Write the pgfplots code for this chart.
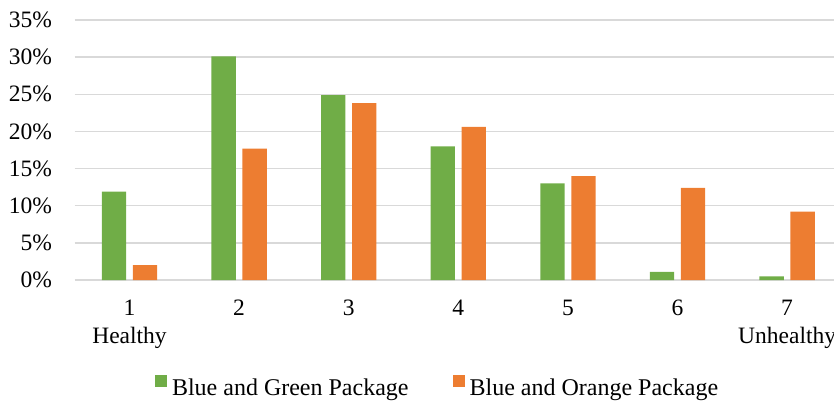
\documentclass[border=0pt]{standalone}
\usepackage{fontspec}
\setmainfont{Liberation Serif}
\usepackage{pgfplots}
\pgfplotsset{compat=1.18}

\definecolor{pkggreen}{HTML}{70AD47}
\definecolor{pkgorange}{HTML}{ED7D31}
\definecolor{gridgray}{HTML}{D9D9D9}

\begin{document}
\fontsize{23.5bp}{28bp}\selectfont
\begin{tikzpicture}[x=1bp,y=1bp]
  \useasboundingbox (0,0) rectangle (834,401);
  \clip (0,0) rectangle (834,401);
  \begin{axis}[
      at={(74.7bp,121bp)}, anchor=south west,
      scale only axis,
      width=767.2bp, height=260bp,
      xmin=0.5, xmax=7.5,
      ymin=0, ymax=35,
      ybar, bar width=24.3bp,
      xtick={1,...,7},
      xticklabels={{1\\Healthy},2,3,4,5,6,{7\\Unhealthy}},
      ytick={0,5,...,35},
      yticklabel={\pgfmathprintnumber{\tick}\%},
      /pgf/number format/assume math mode=true,
      ymajorgrids,
      major grid style={draw=gridgray, line width=1.5bp},
      axis line style={draw=none},
      major tick length=0pt,
      tick style={draw=none},
      ticklabel style={font=\fontsize{23.5bp}{28bp}\selectfont},
      xticklabel style={align=center, anchor=north, inner sep=0pt, yshift=-20bp},
      yticklabel style={anchor=east, inner sep=0pt, xshift=-22.5bp},
      legend columns=2,
      legend style={
        at={(0.4717,-0.4115)}, anchor=center,
        draw=none, fill=none, inner sep=0pt,
        font=\fontsize{24bp}{28bp}\selectfont,
        nodes={inner sep=0pt},
        /tikz/every odd column/.append style={column sep=5bp},
        /tikz/every even column/.append style={column sep=44bp},
      },
      legend image code/.code={\fill[#1] (0bp,1bp) rectangle (12bp,13bp);},
    ]
    \addplot[fill=pkggreen, draw=none, bar shift=-15.5bp]
      coordinates {(1,11.9) (2,30.1) (3,24.9) (4,18.0) (5,13.0) (6,1.1) (7,0.5)};
    \addplot[fill=pkgorange, draw=none, bar shift=15.5bp]
      coordinates {(1,2.0) (2,17.7) (3,23.8) (4,20.6) (5,14.0) (6,12.4) (7,9.2)};
    \legend{Blue and Green Package, Blue and Orange Package}
  \end{axis}
\end{tikzpicture}
\end{document}
